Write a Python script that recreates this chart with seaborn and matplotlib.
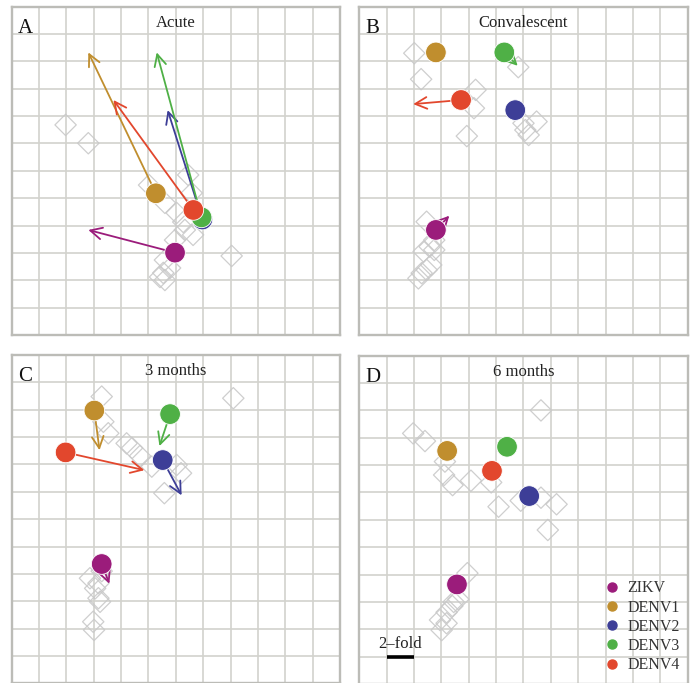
'''
Antigenic map panels: antigen positions over time with sera diamonds
'''

import numpy as np
import pandas as pd
import seaborn as sns
import matplotlib
matplotlib.use("Agg")
import matplotlib.pyplot as plt
from matplotlib.lines import Line2D

# Data (map units, 1 unit = 2-fold)
timepoints = ["Acute", "Convalescent", "3 months", "6 months"]
panel_letters = ["A", "B", "C", "D"]
viruses = ["ZIKV", "DENV1", "DENV2", "DENV3", "DENV4"]
colors = ["#9b1c7b", "#c08e2e", "#3d3e97", "#4fb046", "#e2472d"]

zikv_x = [5.97, 2.80, 3.29, 3.57]
zikv_y = [3.01, 3.84, 4.36, 3.64]
denv1_x = [5.27, 2.80, 3.02, 3.21]
denv1_y = [5.18, 10.33, 9.97, 8.52]
denv2_x = [6.97, 5.70, 5.52, 6.21]
denv2_y = [4.22, 8.22, 8.16, 6.87]
denv3_x = [6.94, 5.30, 5.79, 5.40]
denv3_y = [4.30, 10.33, 9.84, 8.67]
denv4_x = [6.64, 3.72, 1.97, 4.85]
denv4_y = [4.57, 8.59, 8.44, 7.79]

sera_acute_x = [1.97, 2.80, 5.02, 6.45, 6.58, 5.60, 6.03, 6.27, 6.33, 6.63,
                5.97, 8.04, 5.60, 5.54, 5.60, 5.42, 5.79]
sera_acute_y = [7.68, 7.01, 5.48, 5.85, 5.19, 4.83, 4.46, 4.13, 3.84, 3.66,
                3.47, 2.89, 2.74, 2.27, 2.01, 2.12, 2.45]
sera_conv_x = [2.01, 2.26, 4.25, 4.19, 3.93, 5.81, 6.00, 6.48, 6.07, 6.19,
               2.46, 2.74, 2.57, 2.35, 2.74, 2.63, 2.46, 2.28, 2.16]
sera_conv_y = [10.30, 9.35, 8.96, 8.29, 7.27, 9.79, 7.74, 7.80, 7.49, 7.31,
               4.14, 3.47, 3.23, 3.05, 3.11, 2.56, 2.38, 2.26, 2.07]
sera_3m_x = [3.29, 3.35, 3.53, 4.20, 4.40, 4.69, 5.12, 6.03, 6.19, 5.58, 8.10,
             2.86, 3.17, 3.05, 3.17, 3.23, 2.98, 3.01, 3.29]
sera_3m_y = [10.48, 9.56, 9.14, 8.77, 8.60, 8.31, 7.92, 7.98, 7.68, 6.95, 10.42,
             3.84, 3.66, 3.47, 3.11, 2.98, 2.25, 1.95, 4.10]
sera_6m_x = [1.97, 2.40, 3.13, 3.10, 3.41, 4.08, 4.82, 5.09, 5.90, 6.64, 7.21,
             6.89, 6.64, 3.95, 3.62, 3.40, 3.19, 2.95, 3.19, 3.01, 3.45]
sera_6m_y = [9.16, 8.88, 8.13, 7.64, 7.27, 7.43, 7.37, 6.48, 6.70, 6.81, 6.57,
             5.63, 10.00, 4.05, 3.10, 2.85, 2.62, 2.34, 2.22, 1.97, 3.00]

ARROW_MIN = 0.5  # moves shorter than this get no arrow

ag_x = [zikv_x, denv1_x, denv2_x, denv3_x, denv4_x]
ag_y = [zikv_y, denv1_y, denv2_y, denv3_y, denv4_y]
antigens = pd.DataFrame([
    {"virus": v, "time": timepoints[t], "t": t, "x": ag_x[i][t], "y": ag_y[i][t]}
    for i, v in enumerate(viruses) for t in range(len(timepoints))
])
sera = pd.concat([
    pd.DataFrame({"time": tp, "x": sx, "y": sy})
    for tp, sx, sy in zip(timepoints,
                          [sera_acute_x, sera_conv_x, sera_3m_x, sera_6m_x],
                          [sera_acute_y, sera_conv_y, sera_3m_y, sera_6m_y])
])

sns.set_style("white")
plt.rcParams["font.family"] = ["Liberation Serif", "DejaVu Serif"]

W, H = 693, 683
SIZE = 328.3
fig = plt.figure(figsize=(W / 100, H / 100), dpi=100)
corners = [(11.7, 6.7), (359.3, 6.7), (11.7, 355.0), (359.3, 355.7)]
palette = dict(zip(viruses, colors))

for k, (tp, letter) in enumerate(zip(timepoints, panel_letters)):
    left, top = corners[k]
    ax = fig.add_axes([left / W, 1 - (top + SIZE) / H, SIZE / W, SIZE / H])
    ax.set_xlim(0, 12)
    ax.set_ylim(0, 12)
    ax.set_xticks(np.arange(13))
    ax.set_yticks(np.arange(13))
    ax.tick_params(left=False, bottom=False, labelleft=False, labelbottom=False)
    ax.grid(True, color="#d2d2cd", lw=1.2)
    ax.set_axisbelow(True)
    for sp in ax.spines.values():
        sp.set_color("#bcbcb7")
        sp.set_linewidth(1.7)

    sns.scatterplot(data=sera[sera["time"] == tp], x="x", y="y", ax=ax,
                    marker="D", s=118, color="none", edgecolor="#c9c9c9",
                    linewidth=0.9, alpha=0.9, zorder=2, legend=False)

    cur = antigens[antigens["time"] == tp]
    # arrows towards the next time point
    if k + 1 < len(timepoints):
        nxt = antigens[antigens["time"] == timepoints[k + 1]].set_index("virus")
        for _, row in cur.iterrows():
            x1, y1 = nxt.loc[row["virus"], ["x", "y"]]
            if np.hypot(x1 - row["x"], y1 - row["y"]) > ARROW_MIN:
                ax.annotate("", xy=(x1, y1), xytext=(row["x"], row["y"]),
                            arrowprops=dict(arrowstyle="->", color=palette[row["virus"]],
                                            lw=1.3, shrinkA=0, shrinkB=0,
                                            mutation_scale=21),
                            zorder=3)

    sns.scatterplot(data=cur, x="x", y="y", hue="virus", hue_order=viruses,
                    palette=palette, s=220, edgecolor="white", linewidth=0.6,
                    zorder=4, legend=False, ax=ax)

    ax.set_xlabel("")
    ax.set_ylabel("")
    ax.text(6, 11.27, tp, ha="center", va="baseline", fontsize=12, color="#222222")
    ax.text(0.23, 11.04, letter, ha="left", va="baseline", fontsize=15, color="#111111")

    if k == 3:
        ax.plot([1, 2], [1, 1], color="black", lw=2.6, solid_capstyle="butt", zorder=5)
        ax.text(1.5, 1.3, "2\u2013fold", ha="center", va="baseline", fontsize=12,
                color="#222222")
        handles = [Line2D([], [], marker="o", ls="", color=c, markersize=6.5)
                   for c in colors]
        ax.legend(handles, viruses, loc="upper left", bbox_to_anchor=(0.725, 0.335),
                  frameon=False, fontsize=11.5, labelspacing=0.2,
                  handletextpad=0.5, handlelength=1.0, borderaxespad=0,
                  labelcolor="#333333")

fig.savefig("out.png", dpi=100)
